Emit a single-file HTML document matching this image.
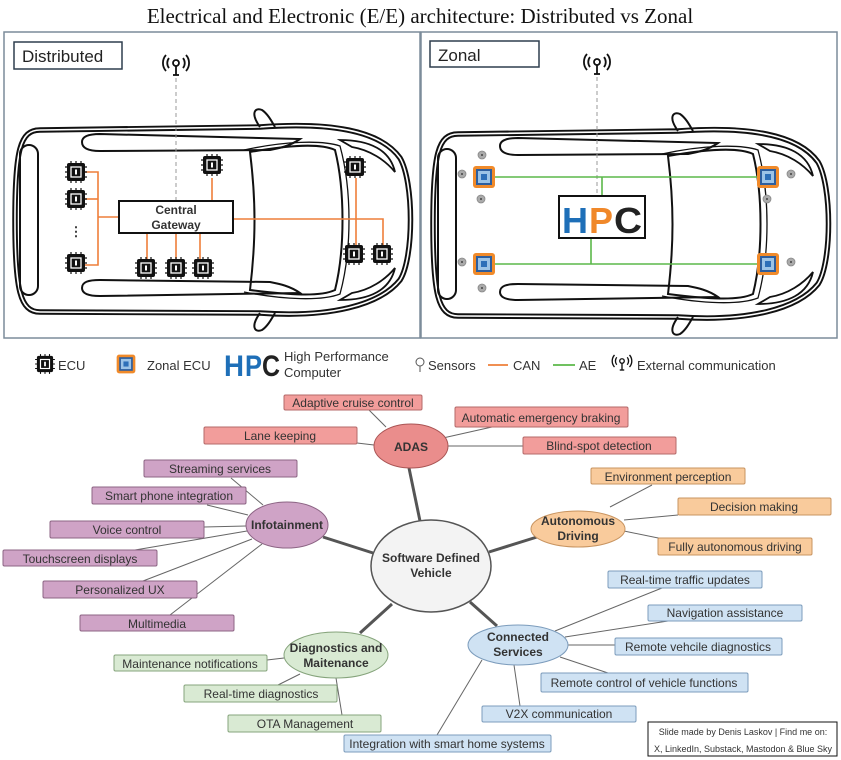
<!DOCTYPE html>
<html><head><meta charset="utf-8"><style>
body{margin:0;width:841px;height:760px;background:#fff;overflow:hidden}
svg{display:block}
.mm text{font-family:"Liberation Sans",sans-serif;font-size:12px;fill:#333;text-anchor:middle}
.b{font-weight:bold}
</style></head><body>
<svg width="841" height="760" viewBox="0 0 841 760" xmlns="http://www.w3.org/2000/svg">
<defs>
<g id="car">
 <g fill="none" stroke="#111">
  <path d="M40,130 C20,130 15,150 15,220 C15,290 20,312 40,312 L260,313 C330,318 380,305 400,280 C414,258 414,182 400,158 C380,130 330,122 260,127 Z" stroke-width="5.5"/>
  <path d="M40,130 C20,130 15,150 15,220 C15,290 20,312 40,312 L260,313 C330,318 380,305 400,280 C414,258 414,182 400,158 C380,130 330,122 260,127 Z" stroke="#fff" stroke-width="1.6"/>
  <path d="M250,152 C290,145 320,143 335,150 C345,190 345,250 335,290 C320,297 290,295 250,290 C256,240 256,200 250,152 Z" stroke-width="2"/>
  <path d="M244,150 C285,141 322,140 340,146 C352,190 352,250 340,294 C322,301 285,300 244,292" stroke-width="1.3"/>
  <rect x="20" y="145" width="18" height="150" rx="9" stroke-width="2"/>
  <path d="M82,142 C82,136 90,134 100,134 L300,139 C290,146 280,148 270,150 L100,151 C88,151 82,148 82,142 Z" stroke-width="2"/>
  <path d="M82,288 C82,294 90,296 100,296 L300,293 C290,286 280,284 270,282 L100,280 C88,280 82,282 82,288 Z" stroke-width="2"/>
  <path d="M260,127 C250,113 255,107 262,110 C268,114 272,122 275,127" stroke-width="2"/>
  <path d="M260,313 C250,327 255,333 262,330 C268,326 272,318 275,313" stroke-width="2"/>
  <path d="M340,140 C370,140 390,150 395,172 C385,160 370,150 352,147 Z" stroke-width="1.8"/>
  <path d="M340,300 C370,300 390,290 395,268 C385,280 370,290 352,293 Z" stroke-width="1.8"/>
 </g>
</g>
<g id="ecu">
 <g stroke="#111" stroke-width="1.2">
  <line x1="-11" y1="-5" x2="11" y2="-5"/><line x1="-11" y1="0" x2="11" y2="0"/><line x1="-11" y1="5" x2="11" y2="5"/>
  <line x1="-5" y1="-11" x2="-5" y2="11"/><line x1="0" y1="-11" x2="0" y2="11"/><line x1="5" y1="-11" x2="5" y2="11"/>
 </g>
 <rect x="-9" y="-9" width="18" height="18" rx="2" fill="#111"/>
 <rect x="-5" y="-5" width="10" height="10" fill="none" stroke="#fff" stroke-width="1.3"/>
 <rect x="-1" y="-2.5" width="2" height="5" fill="#fff"/>
</g>
<g id="zecu">
 <rect x="-11" y="-11" width="22" height="22" rx="3" fill="#f08a2a"/>
 <rect x="-8" y="-8" width="16" height="16" fill="#2d5e9e"/>
 <rect x="-6" y="-6" width="12" height="12" fill="#9cc3e6"/>
 <rect x="-3" y="-3" width="6" height="6" fill="#2d6fb8"/>
</g>
<g id="sen"><circle r="4" fill="#aaa" stroke="#888" stroke-width="0.8"/><circle r="1" fill="#444"/></g>
<g id="ant" fill="none" stroke="#111" stroke-width="1.8">
 <circle cx="0" cy="-4" r="3"/><line x1="0" y1="-1" x2="0" y2="8"/><line x1="-3" y1="8" x2="3" y2="8"/>
 <path d="M-7,-9 A8,8 0 0 0 -7,1"/><path d="M7,-9 A8,8 0 0 1 7,1"/>
 <path d="M-10,-12 A12,12 0 0 0 -10,4"/><path d="M10,-12 A12,12 0 0 1 10,4"/>
</g>
</defs>

<text x="420" y="23" text-anchor="middle" font-family="Liberation Serif,serif" font-size="21" fill="#111">Electrical and Electronic (E/E) architecture: Distributed vs Zonal</text>

<rect x="4" y="32" width="416" height="306" fill="none" stroke="#7c8c9a" stroke-width="1.5"/>
<rect x="421" y="32" width="416" height="306" fill="none" stroke="#7c8c9a" stroke-width="1.5"/>
<rect x="14" y="42" width="108" height="27" fill="#fff" stroke="#2e3e4e" stroke-width="1.5"/>
<text x="22" y="62" font-family="Liberation Sans,sans-serif" font-size="17" fill="#222">Distributed</text>
<rect x="430" y="41" width="109" height="26" fill="#fff" stroke="#2e3e4e" stroke-width="1.5"/>
<text x="438" y="61" font-family="Liberation Sans,sans-serif" font-size="17" fill="#222">Zonal</text>

<use href="#car"/>
<use href="#car" transform="translate(418,4)"/>

<use href="#ant" transform="translate(176,67)"/>
<line x1="176" y1="78" x2="176" y2="201" stroke="#999" stroke-dasharray="4,3"/>
<g stroke="#ee7f3a" stroke-width="1.6" fill="none">
 <path d="M84,172 H98 V265 H84"/><path d="M84,199 H98"/><path d="M98,217 H119"/>
 <path d="M212,201 V178"/><path d="M147,233 V262 M176,233 V262 M200,233 V262"/>
 <path d="M233,219 H383 V248 M356,178 V248"/>
</g>
<rect x="119" y="201" width="114" height="32" fill="#fff" stroke="#111" stroke-width="2"/>
<text x="176" y="214" text-anchor="middle" font-family="Liberation Sans,sans-serif" font-weight="bold" font-size="12" fill="#333">Central</text>
<text x="176" y="229" text-anchor="middle" font-family="Liberation Sans,sans-serif" font-weight="bold" font-size="12" fill="#333">Gateway</text>
<text x="76" y="236" text-anchor="middle" font-family="Liberation Sans,sans-serif" font-size="13" font-weight="bold" fill="#333">⋮</text>
<use href="#ecu" transform="translate(76,172)"/><use href="#ecu" transform="translate(76,199)"/><use href="#ecu" transform="translate(76,263)"/>
<use href="#ecu" transform="translate(212,165)"/>
<use href="#ecu" transform="translate(146,268)"/><use href="#ecu" transform="translate(176,268)"/><use href="#ecu" transform="translate(203,268)"/>
<use href="#ecu" transform="translate(355,167)"/><use href="#ecu" transform="translate(354,254)"/><use href="#ecu" transform="translate(382,254)"/>

<use href="#ant" transform="translate(597,66)"/>
<line x1="597" y1="77" x2="597" y2="196" stroke="#999" stroke-dasharray="4,3"/>
<g stroke="#5cb84a" stroke-width="1.6" fill="none">
 <path d="M495,177 H757 M495,264 H757 M602,177 V196 M591,238 V264"/>
</g>
<rect x="559" y="196" width="86" height="42" fill="#fff" stroke="#111" stroke-width="2"/>
<text x="562" y="233" font-family="Liberation Sans,sans-serif" font-weight="bold" font-size="36" fill="#1e6fb8" textLength="26" lengthAdjust="spacingAndGlyphs">H</text>
<text x="589" y="233" font-family="Liberation Sans,sans-serif" font-weight="bold" font-size="36" fill="#f0882a" textLength="24" lengthAdjust="spacingAndGlyphs">P</text>
<text x="614" y="233" font-family="Liberation Sans,sans-serif" font-weight="bold" font-size="36" fill="#222" textLength="28" lengthAdjust="spacingAndGlyphs">C</text>
<use href="#zecu" transform="translate(484,177)"/><use href="#zecu" transform="translate(768,177)"/>
<use href="#zecu" transform="translate(484,264)"/><use href="#zecu" transform="translate(768,264)"/>
<use href="#sen" transform="translate(482,155)"/><use href="#sen" transform="translate(462,174)"/><use href="#sen" transform="translate(481,199)"/>
<use href="#sen" transform="translate(462,262)"/><use href="#sen" transform="translate(482,288)"/>
<use href="#sen" transform="translate(791,174)"/><use href="#sen" transform="translate(767,199)"/><use href="#sen" transform="translate(791,262)"/>

<g font-family="Liberation Sans Narrow,Liberation Sans,sans-serif" font-size="13" fill="#333">
<use href="#ecu" transform="translate(45,364) scale(0.9)"/><text x="58" y="370">ECU</text>
<use href="#zecu" transform="translate(126,364) scale(0.85)"/><text x="147" y="370">Zonal ECU</text>
<text x="224" y="376" font-family="Liberation Sans,sans-serif" font-weight="bold" font-size="30" fill="#1e6fb8" textLength="20" lengthAdjust="spacingAndGlyphs">H</text>
<text x="245" y="376" font-family="Liberation Sans,sans-serif" font-weight="bold" font-size="30" fill="#1e6fb8" textLength="17" lengthAdjust="spacingAndGlyphs">P</text>
<text x="262" y="376" font-family="Liberation Sans,sans-serif" font-weight="bold" font-size="30" fill="#222" textLength="18" lengthAdjust="spacingAndGlyphs">C</text>
<text x="284" y="361">High Performance</text><text x="284" y="377">Computer</text>
<circle cx="420" cy="362" r="4" fill="none" stroke="#555"/><line x1="420" y1="366" x2="420" y2="372" stroke="#555"/>
<text x="428" y="370">Sensors</text>
<line x1="488" y1="365" x2="508" y2="365" stroke="#ee7f3a" stroke-width="1.8"/><text x="513" y="370">CAN</text>
<line x1="553" y1="365" x2="575" y2="365" stroke="#5cb84a" stroke-width="1.8"/><text x="579" y="370">AE</text>
<use href="#ant" transform="translate(622,364) scale(0.75)"/><text x="637" y="370">External communication</text>
</g>

<g class="mm">
<g stroke="#555" stroke-width="3" fill="none">
 <line x1="409" y1="468" x2="420" y2="521"/><line x1="323" y1="537" x2="373" y2="553"/>
 <line x1="360" y1="633" x2="392" y2="604"/><line x1="497" y1="626" x2="470" y2="602"/>
 <line x1="537" y1="537" x2="489" y2="552"/>
</g>
<g stroke="#666" stroke-width="1" fill="none">
 <line x1="386" y1="427" x2="369" y2="410"/><line x1="357" y1="443" x2="374" y2="445"/>
 <line x1="434" y1="440" x2="492" y2="427"/><line x1="446" y1="446" x2="523" y2="446"/>
 <line x1="231" y1="478" x2="263" y2="505"/><line x1="207" y1="505" x2="248" y2="515"/>
 <line x1="204" y1="527" x2="246" y2="526"/><line x1="135" y1="550" x2="247" y2="531"/>
 <line x1="143" y1="581" x2="252" y2="539"/><line x1="170" y1="615" x2="262" y2="544"/>
 <line x1="267" y1="660" x2="284" y2="658"/><line x1="278" y1="685" x2="300" y2="674"/>
 <line x1="336" y1="678" x2="342" y2="715"/>
 <line x1="610" y1="507" x2="652" y2="485"/><line x1="624" y1="520" x2="678" y2="515"/>
 <line x1="624" y1="531" x2="668" y2="540"/>
 <line x1="555" y1="631" x2="662" y2="588"/><line x1="565" y1="637" x2="668" y2="621"/>
 <line x1="568" y1="645" x2="615" y2="645"/><line x1="560" y1="657" x2="608" y2="673"/>
 <line x1="514" y1="665" x2="520" y2="706"/><line x1="482" y1="660" x2="437" y2="735"/>
</g>
<g stroke="#b46a6a" fill="#f29d9b">
 <rect x="284" y="395" width="138" height="15" rx="1.5"/><rect x="204" y="427" width="153" height="17" rx="1.5"/>
 <rect x="455" y="407" width="173" height="20" rx="1.5"/><rect x="523" y="437" width="153" height="17" rx="1.5"/>
 <ellipse cx="411" cy="446" rx="37" ry="22" fill="#ea8d8c" stroke="#a55"/>
</g>
<text x="353" y="407">Adaptive cruise control</text><text x="280" y="440">Lane keeping</text>
<text x="541" y="422">Automatic emergency braking</text><text x="599" y="450">Blind-spot detection</text>
<text x="411" y="451" class="b">ADAS</text>
<g stroke="#8c6484" fill="#cfa3c6">
 <rect x="144" y="460" width="153" height="17" rx="1.5"/><rect x="92" y="487" width="154" height="17" rx="1.5"/>
 <rect x="50" y="521" width="154" height="17" rx="1.5"/><rect x="3" y="550" width="154" height="16" rx="1.5"/>
 <rect x="43" y="581" width="154" height="17" rx="1.5"/><rect x="80" y="615" width="154" height="16" rx="1.5"/>
 <ellipse cx="287" cy="525" rx="41" ry="23"/>
</g>
<text x="220" y="473">Streaming services</text><text x="169" y="500">Smart phone integration</text>
<text x="127" y="534">Voice control</text><text x="80" y="563">Touchscreen displays</text>
<text x="120" y="594">Personalized UX</text><text x="157" y="628">Multimedia</text>
<text x="287" y="529" class="b">Infotainment</text>
<ellipse cx="431" cy="566" rx="60" ry="46" fill="#f3f3f3" stroke="#555" stroke-width="1.5"/>
<text x="431" y="562" class="b">Software Defined</text><text x="431" y="577" class="b">Vehicle</text>
<g stroke="#86a47c" fill="#d9ead3">
 <rect x="114" y="655" width="153" height="16" rx="1.5"/><rect x="184" y="685" width="153" height="17" rx="1.5"/>
 <rect x="228" y="715" width="153" height="17" rx="1.5"/><ellipse cx="336" cy="655" rx="52" ry="23"/>
</g>
<text x="190" y="668">Maintenance notifications</text><text x="261" y="698">Real-time diagnostics</text>
<text x="305" y="728">OTA Management</text>
<text x="336" y="652" class="b">Diagnostics and</text><text x="336" y="667" class="b">Maitenance</text>
<g stroke="#c89460" fill="#f9cb9c">
 <rect x="591" y="468" width="154" height="16" rx="1.5"/><rect x="678" y="498" width="153" height="17" rx="1.5"/>
 <rect x="658" y="538" width="154" height="17" rx="1.5"/><ellipse cx="578" cy="529" rx="47" ry="18"/>
</g>
<text x="668" y="481">Environment perception</text><text x="754" y="511">Decision making</text>
<text x="735" y="551">Fully autonomous driving</text>
<text x="578" y="525" class="b">Autonomous</text><text x="578" y="540" class="b">Driving</text>
<g stroke="#7c9cbc" fill="#cfe2f3">
 <rect x="608" y="571" width="154" height="17" rx="1.5"/><rect x="648" y="605" width="154" height="16" rx="1.5"/>
 <rect x="615" y="638" width="167" height="17" rx="1.5"/><rect x="541" y="673" width="207" height="19" rx="1.5"/>
 <rect x="482" y="706" width="154" height="16" rx="1.5"/><rect x="344" y="735" width="207" height="17" rx="1.5"/>
 <ellipse cx="518" cy="645" rx="50" ry="20"/>
</g>
<text x="685" y="584">Real-time traffic updates</text><text x="725" y="617">Navigation assistance</text>
<text x="698" y="651">Remote vehcile diagnostics</text><text x="644" y="687">Remote control of vehicle functions</text>
<text x="559" y="718">V2X communication</text><text x="447" y="748">Integration with smart home systems</text>
<text x="518" y="641" class="b">Connected</text><text x="518" y="656" class="b">Services</text>
<rect x="648" y="722" width="189" height="34" fill="#fff" stroke="#111"/>
<text x="743" y="735" style="font-size:9px">Slide made by Denis Laskov | Find me on:</text>
<text x="743" y="752" style="font-size:9px">X, LinkedIn, Substack, Mastodon &amp; Blue Sky</text>
</g>
</svg>
</body></html>
